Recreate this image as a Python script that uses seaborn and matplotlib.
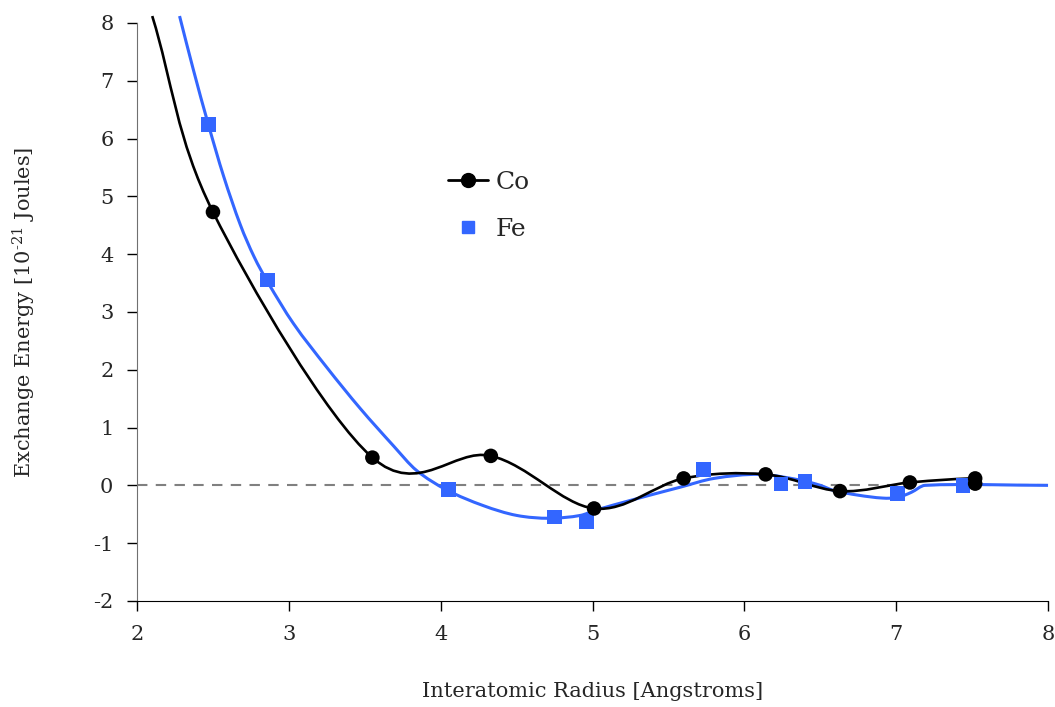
import matplotlib
matplotlib.use("Agg")
import matplotlib.pyplot as plt
from matplotlib.lines import Line2D
from matplotlib.path import Path
from matplotlib.patches import PathPatch
import seaborn as sns

# ---- data ----
co_x = [2.50, 3.55, 4.33, 5.01, 5.60, 6.14, 6.63, 7.09, 7.52, 7.52]
co_y = [4.73, 0.48, 0.51, -0.40, 0.12, 0.19, -0.10, 0.05, 0.12, 0.03]

fe_x = [2.47, 2.86, 4.05, 4.75, 4.96, 5.73, 6.24, 6.40, 7.01, 7.44]
fe_y = [6.24, 3.55, -0.07, -0.55, -0.63, 0.27, 0.02, 0.07, -0.14, 0.00]

# where the Co smoothed line leaves the top of the frame
co_top_x = [2.10]
co_top_y = [8.12]

# fitted Fe curve, read point by point
fe_line_x = [2.28, 2.37, 2.47, 2.57, 2.68, 2.77, 2.86, 3.03, 3.25, 3.47, 3.69,
             3.84, 4.04, 4.28, 4.50, 4.72, 4.92, 5.02, 5.25, 5.58, 5.80, 6.10,
             6.37, 6.50, 6.59, 6.75, 6.91, 7.01, 7.10, 7.19, 8.00]
fe_line_y = [8.12, 7.20, 6.24, 5.35, 4.51, 3.96, 3.52, 2.80, 2.04, 1.33, 0.68,
             0.26, -0.08, -0.35, -0.52, -0.57, -0.52, -0.43, -0.26, -0.03, 0.12, 0.19,
             0.09, 0.00, -0.09, -0.17, -0.22, -0.21, -0.12, 0.00, 0.00]

x_ticks = [2, 3, 4, 5, 6, 7, 8]
y_ticks = [-2, -1, 0, 1, 2, 3, 4, 5, 6, 7, 8]

BLUE = "#3366ff"


def catmull_path(xs, ys):
    """Smoothed rendering of a polyline, like a spreadsheet's smoothed line."""
    pts = list(zip(xs, ys))
    n = len(pts)
    verts = [pts[0]]
    codes = [Path.MOVETO]
    for i in range(n - 1):
        p1 = pts[i]
        p2 = pts[i + 1]
        if i > 0:
            p0 = pts[i - 1]
        else:
            p0 = (2 * p1[0] - p2[0], 2 * p1[1] - p2[1])
        if i + 2 < n:
            p3 = pts[i + 2]
        else:
            p3 = (2 * p2[0] - p1[0], 2 * p2[1] - p1[1])
        c1 = (p1[0] + (p2[0] - p0[0]) / 6, p1[1] + (p2[1] - p0[1]) / 6)
        c2 = (p2[0] - (p3[0] - p1[0]) / 6, p2[1] - (p3[1] - p1[1]) / 6)
        verts += [c1, c2, p2]
        codes += [Path.CURVE4] * 3
    return Path(verts, codes)


def hermite_path(xs, ys):
    """Smooth rendering parametrised by x (no loops with uneven spacing)."""
    n = len(xs)
    m = []
    for i in range(n):
        a = max(i - 1, 0)
        b = min(i + 1, n - 1)
        m.append((ys[b] - ys[a]) / (xs[b] - xs[a]))
    verts = [(xs[0], ys[0])]
    codes = [Path.MOVETO]
    for i in range(n - 1):
        h = xs[i + 1] - xs[i]
        verts += [(xs[i] + h / 3, ys[i] + m[i] * h / 3),
                  (xs[i + 1] - h / 3, ys[i + 1] - m[i + 1] * h / 3),
                  (xs[i + 1], ys[i + 1])]
        codes += [Path.CURVE4] * 3
    return Path(verts, codes)


sns.set_style("ticks")
plt.rcParams["font.family"] = ["DejaVu Serif", "Liberation Serif"]
plt.rcParams["mathtext.fontset"] = "dejavuserif"

fig = plt.figure(figsize=(10.55, 7.07), dpi=100)
ax = fig.add_axes([0.1299, 0.150, 0.8635, 0.8175])

ax.axhline(0, color="#808080", lw=1.5, ls=(0, (5, 4)), zorder=1)

ax.add_patch(PathPatch(hermite_path(fe_line_x, fe_line_y), facecolor="none",
                       edgecolor=BLUE, lw=2.2, zorder=2, clip_on=False,
                       capstyle="butt"))
ax.add_patch(PathPatch(catmull_path(co_top_x + co_x, co_top_y + co_y),
                       facecolor="none", edgecolor="black", lw=1.9, zorder=3,
                       clip_on=False, capstyle="butt"))

sns.scatterplot(x=fe_x, y=fe_y, ax=ax, marker="s", s=110, color=BLUE,
                edgecolor="none", zorder=4)
sns.scatterplot(x=co_x, y=co_y, ax=ax, marker="o", s=110, color="black",
                edgecolor="none", zorder=5)

ax.set_xlim(2, 8)
ax.set_ylim(-2, 8)
ax.set_xticks(x_ticks)
ax.set_yticks(y_ticks)
ax.set_xticklabels([str(t) for t in x_ticks])
ax.set_yticklabels([str(t) for t in y_ticks])
ax.tick_params(axis="both", direction="out", length=7, width=1, labelsize=15,
               color="black", pad=10)
for side in ["top", "right"]:
    ax.spines[side].set_visible(False)
ax.spines["left"].set_color("#707070")
ax.spines["bottom"].set_color("black")

ax.set_xlabel("Interatomic Radius [Angstroms]", fontsize=15, labelpad=28)
ax.set_ylabel("Exchange Energy [10$^{\\mathregular{\u201021}}$ Joules]",
              fontsize=15, labelpad=40)

handles = [
    Line2D([0], [0], color="black", lw=2, marker="o", markersize=10),
    Line2D([0], [0], color=BLUE, lw=0, marker="s", markersize=9),
]
leg = ax.legend(handles, ["Co", "Fe"], loc="upper left",
                bbox_to_anchor=(0.403, 0.79), bbox_transform=fig.transFigure,
                frameon=False, fontsize=18, handlelength=1.6,
                handletextpad=0.3, labelspacing=0.95)

fig.savefig("out.png", dpi=100)
